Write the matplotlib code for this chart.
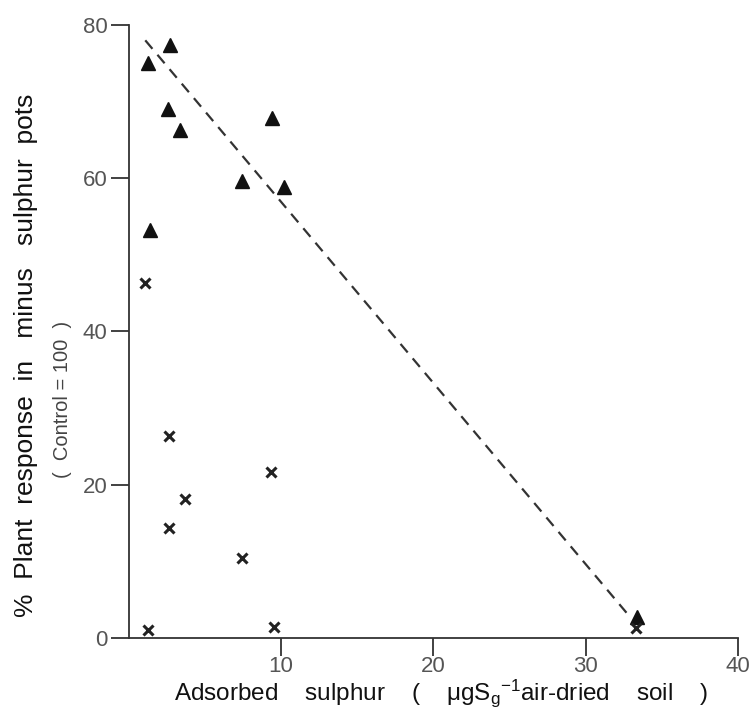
import matplotlib
matplotlib.use("Agg")
import matplotlib.pyplot as plt

# Data
tri_x = [1.3, 2.7, 2.6, 3.4, 9.45, 7.45, 10.2, 1.4, 33.4]
tri_y = [75.0, 77.4, 69.1, 66.3, 67.8, 59.7, 58.8, 53.3, 2.8]
cross_x = [1.1, 2.65, 3.7, 2.63, 1.27, 9.34, 7.45, 9.56, 33.3]
cross_y = [46.3, 26.3, 18.2, 14.4, 1.1, 21.6, 10.4, 1.4, 1.3]
fit_x = [1.1, 32.9]
fit_y = [78.0, 2.8]
x_ticks = [10, 20, 30, 40]
y_ticks = [0, 20, 40, 60, 80]

plt.rcParams['font.family'] = ['Liberation Sans', 'DejaVu Sans']
plt.rcParams['mathtext.default'] = 'regular'

fig = plt.figure(figsize=(7.56, 7.10), dpi=100)
ax = fig.add_axes([0.170, 0.1014, 0.806, 0.8634])

ax.plot(fit_x, fit_y, color='#333333', lw=1.6, dashes=(5, 3.5))
ax.plot(tri_x, tri_y, linestyle='none', marker='^', markersize=10,
        color='#111111')
ax.plot(cross_x, cross_y, linestyle='none', marker='x', markersize=7.5,
        mew=2.2, color='#222222')

ax.set_xlim(0, 40)
ax.set_ylim(0, 80)
ax.set_xticks(x_ticks)
ax.set_yticks(y_ticks)
ax.spines['top'].set_visible(False)
ax.spines['right'].set_visible(False)
for s in ('left', 'bottom'):
    ax.spines[s].set_linewidth(1.3)
    ax.spines[s].set_color('#333333')
ax.tick_params(axis='both', length=13, width=1.3, color='#333333',
               labelsize=16, labelcolor='#555555')
ax.tick_params(axis='y', pad=2)
ax.tick_params(axis='x', pad=0)

fig.text(0.584, 0.0135,
         r'Adsorbed    sulphur    (    $\mu$gS$_{g}$$^{-1}$air-dried    soil    )',
         ha='center', va='baseline', fontsize=17.5, color='#111111')

fig.text(0.034, 0.50, '%  Plant  response  in   minus   sulphur  pots',
         rotation=90, ha='center', va='center', fontsize=19, color='#111111')
fig.text(0.083, 0.437, '(  Control = 100  )', rotation=90, ha='center',
         va='center', fontsize=14.5, color='#444444')

fig.savefig('out.png', dpi=100)
